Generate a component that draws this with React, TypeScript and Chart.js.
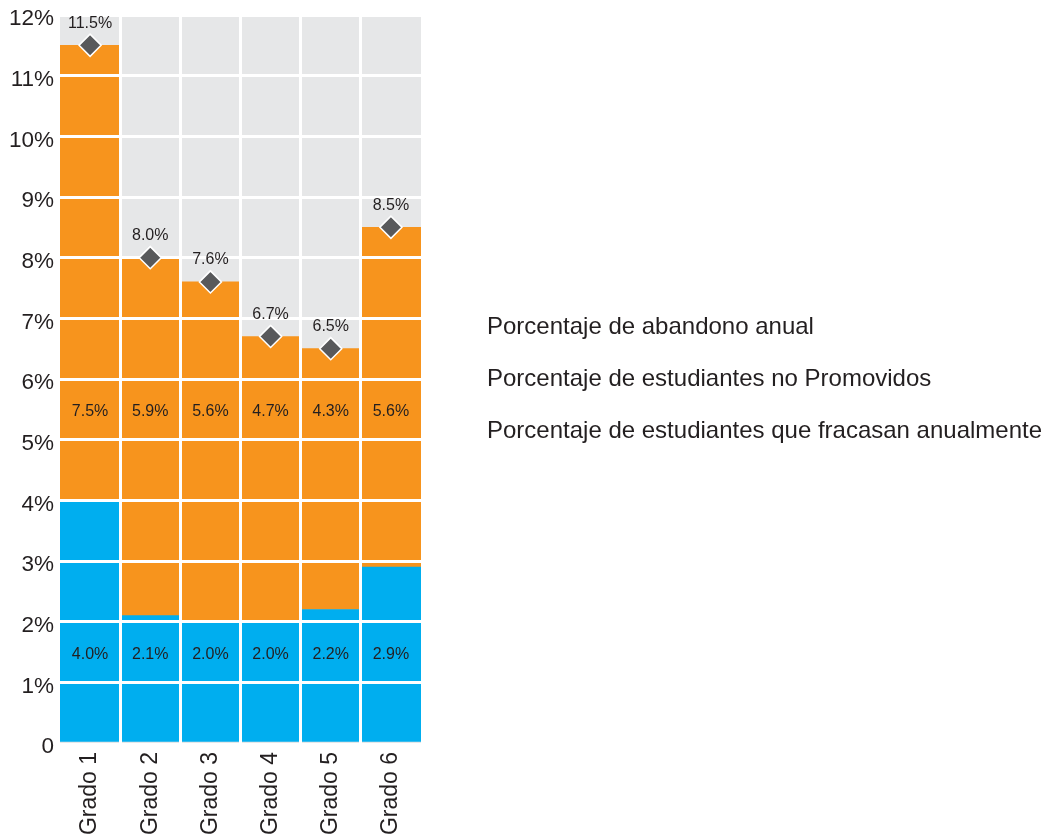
import React, { useEffect, useRef } from 'react';
import { Chart, registerables } from 'chart.js';

Chart.register(...registerables);

const categories = ['Grado 1', 'Grado 2', 'Grado 3', 'Grado 4', 'Grado 5', 'Grado 6'];
const abandono = [4.0, 2.1, 2.0, 2.0, 2.2, 2.9];
const noPromovidos = [7.5, 5.9, 5.6, 4.7, 4.3, 5.6];
const fracasan = [11.5, 8.0, 7.6, 6.7, 6.5, 8.5];
const seriesNames = [
  'Porcentaje de abandono anual',
  'Porcentaje de estudiantes no Promovidos',
  'Porcentaje de estudiantes que fracasan anualmente',
];
const yTickValues = [0, 1, 2, 3, 4, 5, 6, 7, 8, 9, 10, 11, 12];

const FONT = "'Liberation Sans', Arial, Helvetica, sans-serif";
const TEXT = '#231f20';
const BLUE = '#00aeef';
const ORANGE = '#f7941d';
const PLOT_BG = '#e6e7e8';
const DIAMOND = '#58595b';

// label placement (value-axis positions for the in-bar labels)
const BLUE_LABEL_AT = 1.45;
const ORANGE_LABEL_AT = 5.47;
const TOP_LABEL_GAP = 22;

const bgPlugin = {
  id: 'plotBg',
  beforeDraw(chart: any) {
    const { ctx, chartArea: a } = chart;
    ctx.save();
    ctx.fillStyle = PLOT_BG;
    ctx.fillRect(a.left, a.top, a.right - a.left, a.bottom - a.top);
    ctx.restore();
  },
};

const overlayPlugin = {
  id: 'overlay',
  afterDraw(chart: any) {
    const ctx = chart.ctx;
    const xs = chart.scales.x;
    const ys = chart.scales.y;
    // redraw diamonds above the white grid
    const meta = chart.getDatasetMeta(2);
    meta.data.forEach((p: any) => p.draw(ctx, chart.chartArea));
    ctx.save();
    ctx.fillStyle = TEXT;
    ctx.textAlign = 'center';
    ctx.textBaseline = 'middle';
    ctx.font = `16px ${FONT}`;
    categories.forEach((_, i) => {
      const x = xs.getPixelForValue(i);
      ctx.fillText(abandono[i].toFixed(1) + '%', x, ys.getPixelForValue(BLUE_LABEL_AT));
      ctx.fillText(noPromovidos[i].toFixed(1) + '%', x, ys.getPixelForValue(ORANGE_LABEL_AT));
      const pt = meta.data[i];
      ctx.fillText(fracasan[i].toFixed(1) + '%', pt.x, pt.y - TOP_LABEL_GAP);
    });
    ctx.restore();
  },
};

export default function App() {
  const ref = useRef<HTMLCanvasElement | null>(null);

  useEffect(() => {
    if (!ref.current) return;
    const chart = new Chart(ref.current, {
      type: 'bar',
      data: {
        labels: categories,
        datasets: [
          {
            type: 'bar',
            label: seriesNames[0],
            data: abandono,
            backgroundColor: BLUE,
            borderWidth: 0,
            barPercentage: 1,
            categoryPercentage: 1,
            stack: 'bars',
          },
          {
            type: 'bar',
            label: seriesNames[1],
            data: noPromovidos,
            backgroundColor: ORANGE,
            borderWidth: 0,
            barPercentage: 1,
            categoryPercentage: 1,
            stack: 'bars',
          },
          {
            type: 'line',
            label: seriesNames[2],
            data: fracasan,
            showLine: false,
            pointStyle: 'rectRot',
            pointRadius: 11,
            pointHoverRadius: 11,
            pointBackgroundColor: DIAMOND,
            pointBorderColor: '#ffffff',
            pointBorderWidth: 1.5,
            backgroundColor: DIAMOND,
            borderColor: '#ffffff',
            stack: 'total',
          } as any,
        ],
      },
      options: {
        responsive: false,
        animation: false,
        devicePixelRatio: 1,
        layout: { padding: { top: 15, left: 0, right: 0, bottom: 0 } },
        plugins: {
          tooltip: { enabled: false },
          title: { display: false },
          legend: {
            display: true,
            position: 'right',
            align: 'center',
            fullSize: false,
            maxWidth: 622,
            labels: {
              boxWidth: 26,
              boxHeight: 24,
              padding: 28,
              color: TEXT,
              font: { family: FONT, size: 24 },
              generateLabels: (c: any) =>
                c.data.datasets.map((ds: any, i: number) => ({
                  text: ds.label,
                  fillStyle: 'rgba(0,0,0,0)',
                  strokeStyle: 'rgba(0,0,0,0)',
                  lineWidth: 0,
                  hidden: false,
                  datasetIndex: i,
                  fontColor: TEXT,
                })),
            },
          },
        },
        scales: {
          x: {
            stacked: true,
            offset: true,
            border: { display: false },
            grid: {
              z: 1,
              offset: true,
              drawTicks: false,
              lineWidth: 3,
              color: (c: any) =>
                c.type !== 'tick' || c.index === 0 ? 'rgba(0,0,0,0)' : '#ffffff',
            },
            ticks: {
              autoSkip: false,
              minRotation: 90,
              maxRotation: 90,
              padding: 9,
              color: TEXT,
              font: { family: FONT, size: 23 },
            },
            afterFit: (s: any) => {
              s.height = 91;
              s.paddingLeft = 0;
              s.paddingRight = 0;
            },
          },
          y: {
            stacked: true,
            min: 0,
            max: 12,
            border: { display: false },
            grid: {
              z: 1,
              drawTicks: false,
              lineWidth: 3,
              color: (c: any) =>
                c.tick && c.tick.value === 0 ? 'rgba(0,0,0,0)' : '#ffffff',
            },
            afterBuildTicks: (s: any) => {
              s.ticks = yTickValues.map((v) => ({ value: v }));
            },
            ticks: {
              stepSize: 1,
              padding: 6,
              labelOffset: 4,
              color: TEXT,
              font: { family: FONT, size: 22.5 },
              callback: (v: any) => (Number(v) === 0 ? '0' : `${v}%`),
            },
            afterFit: (s: any) => {
              s.width = 60;
              s.paddingTop = 0;
              s.paddingBottom = 0;
            },
          },
        },
      },
      plugins: [bgPlugin, overlayPlugin],
    });
    return () => chart.destroy();
  }, []);

  return (
    <div style={{ position: 'absolute', left: 0, top: 0, width: 1043, height: 834, background: '#ffffff' }}>
      <canvas ref={ref} width={1043} height={834} style={{ display: 'block' }} />
    </div>
  );
}
